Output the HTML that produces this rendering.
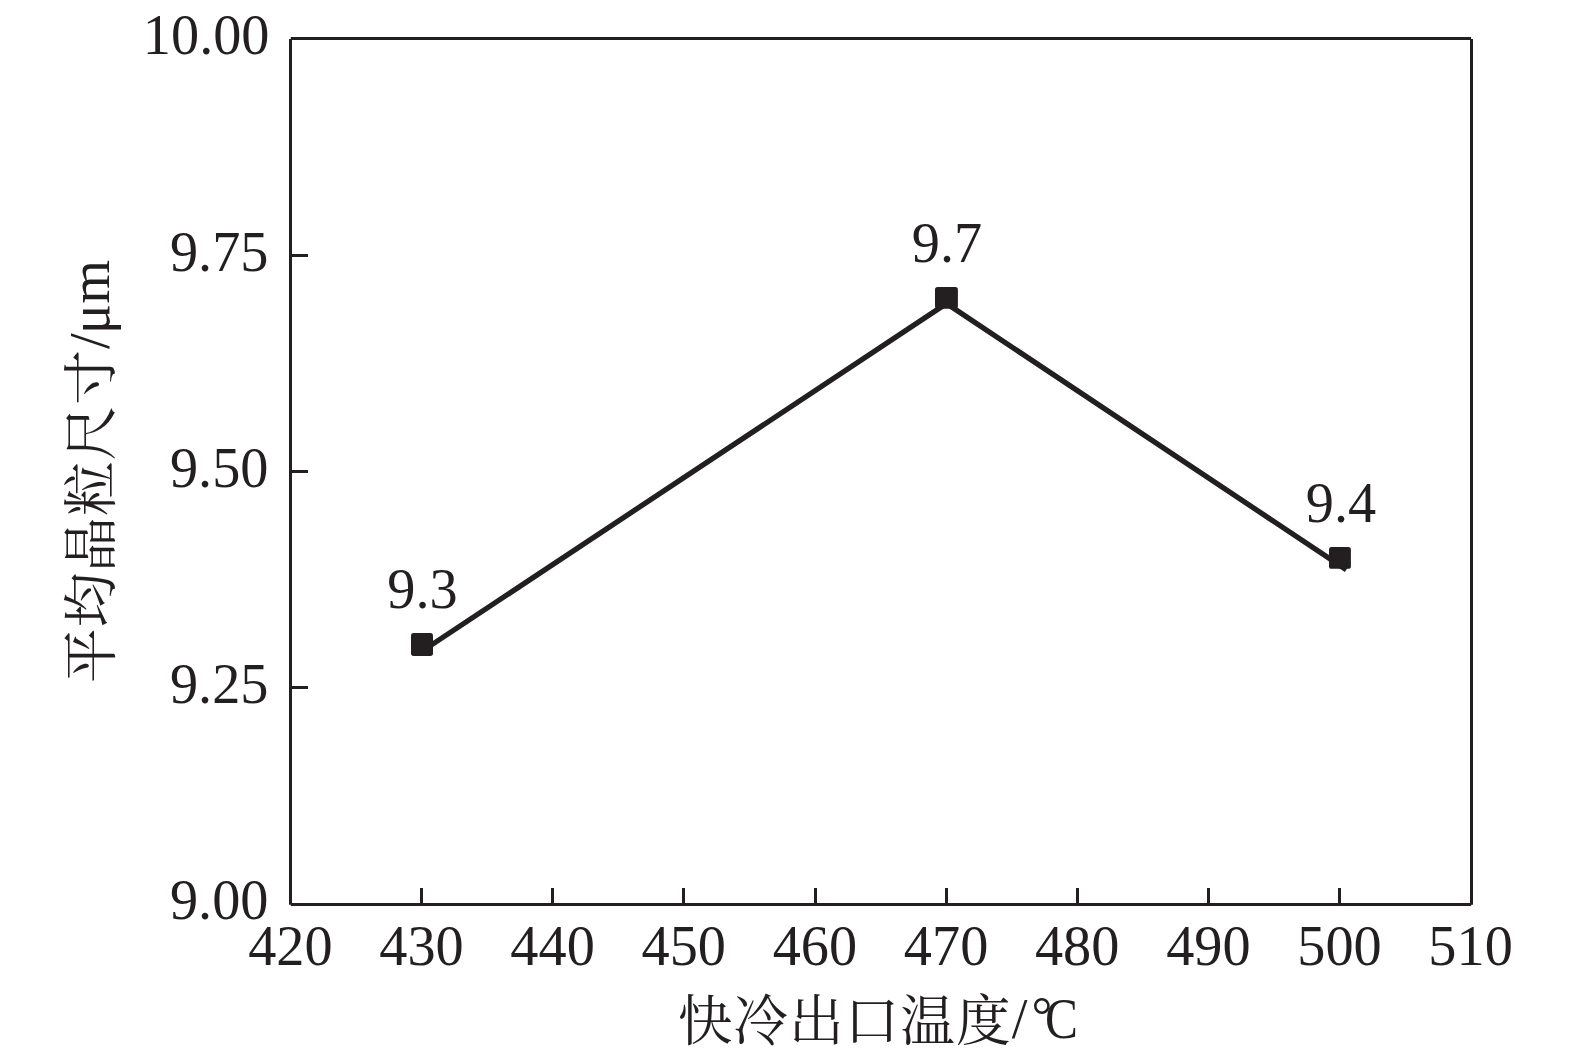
<!DOCTYPE html>
<html lang="zh-CN">
<head>
<meta charset="utf-8">
<title>快冷出口温度与平均晶粒尺寸</title>
<style>
html,body{margin:0;padding:0;background:#ffffff;}
body{width:1575px;height:1063px;overflow:hidden;}
svg{display:block;}
text{font-family:"Liberation Serif","Noto Serif CJK SC",serif;font-size:56.3px;fill:#231f20;}
.cjk{font-family:"Liberation Serif","Noto Serif CJK SC",serif;font-size:54.7px;letter-spacing:0.95px;}
</style>
</head>
<body>
<svg width="1575" height="1063" viewBox="0 0 1575 1063">
<rect x="0" y="0" width="1575" height="1063" fill="#ffffff"/>
<g fill="none" stroke="#231f20" stroke-width="3" stroke-linecap="butt">
<line x1="290.5" y1="39" x2="290.5" y2="904.8"/>
<line x1="290.8" y1="38.5" x2="1471.1" y2="38.5"/>
<line x1="1471.5" y1="39" x2="1471.5" y2="904.8"/>
<line x1="290.8" y1="904.5" x2="1471.2" y2="904.5"/>
<line x1="421.5" y1="888" x2="421.5" y2="904.5"/>
<line x1="552.5" y1="888" x2="552.5" y2="904.5"/>
<line x1="683.5" y1="888" x2="683.5" y2="904.5"/>
<line x1="815.5" y1="888" x2="815.5" y2="904.5"/>
<line x1="946.5" y1="888" x2="946.5" y2="904.5"/>
<line x1="1077.5" y1="888" x2="1077.5" y2="904.5"/>
<line x1="1208.5" y1="888" x2="1208.5" y2="904.5"/>
<line x1="1339.5" y1="888" x2="1339.5" y2="904.5"/>
<line x1="290.5" y1="687.5" x2="308" y2="687.5"/>
<line x1="290.5" y1="471.5" x2="308" y2="471.5"/>
<line x1="290.5" y1="255.5" x2="308" y2="255.5"/>
</g>
<polyline points="424,649.9 946.5,303.5 1346.3,569.7" fill="none" stroke="#231f20" stroke-width="5.3" stroke-linejoin="miter" stroke-linecap="butt"/>
<rect x="411.0" y="633.1" width="22.0" height="22.8" rx="2.6" ry="2.6" fill="#231f20"/>
<rect x="935.0" y="287.1" width="22.9" height="21.6" rx="2.6" ry="2.6" fill="#231f20"/>
<rect x="1329.0" y="547.1" width="21.9" height="21.7" rx="2.6" ry="2.6" fill="#231f20"/>
<text x="269.5" y="54.0" text-anchor="end">10.00</text>
<text x="268.5" y="270.6" text-anchor="end">9.75</text>
<text x="268.5" y="486.6" text-anchor="end">9.50</text>
<text x="268.5" y="702.6" text-anchor="end">9.25</text>
<text x="268.5" y="919.2" text-anchor="end">9.00</text>
<text x="290.4" y="965" text-anchor="middle">420</text>
<text x="421.5" y="965" text-anchor="middle">430</text>
<text x="552.6" y="965" text-anchor="middle">440</text>
<text x="683.8" y="965" text-anchor="middle">450</text>
<text x="814.9" y="965" text-anchor="middle">460</text>
<text x="946.1" y="965" text-anchor="middle">470</text>
<text x="1077.2" y="965" text-anchor="middle">480</text>
<text x="1208.4" y="965" text-anchor="middle">490</text>
<text x="1339.5" y="965" text-anchor="middle">500</text>
<text x="1470.6" y="965" text-anchor="middle">510</text>
<text x="422.5" y="607.5" text-anchor="middle">9.3</text>
<text x="947" y="262" text-anchor="middle">9.7</text>
<text x="1341" y="522" text-anchor="middle">9.4</text>
<text class="cjk" x="677.7" y="1039.5">快冷出口温度</text>
<text x="1011.8" y="1037.8">/</text>
<text x="1031.6" y="1033.4" style="font-size:52.0px">°</text>
<text transform="translate(1045.1,1037.5) scale(0.878,1)">C</text>
<g transform="translate(109.3,700) rotate(-90)">
<text class="cjk" x="17.0" y="1.0">平均晶粒尺寸</text>
<text x="351.0" y="0">/</text>
<text x="366.0" y="0">μm</text>
</g>
</svg>
</body>
</html>
